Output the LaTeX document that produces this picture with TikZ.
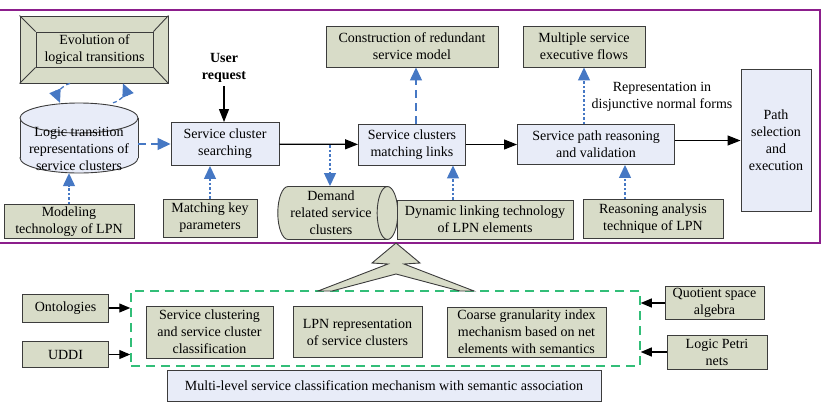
\documentclass[tikz,border=0pt]{standalone}
\usepackage{fontspec}
\setmainfont{Liberation Serif}
\usetikzlibrary{arrows.meta,calc,shapes.geometric}
\definecolor{olivefill}{RGB}{216,220,200}
\definecolor{bluefill}{RGB}{232,236,248}
\definecolor{boxline}{RGB}{60,60,60}
\definecolor{linkblue}{RGB}{70,120,196}
\definecolor{framepurple}{RGB}{140,30,140}
\definecolor{dashgreen}{RGB}{50,190,120}
\tikzset{
  olivebox/.style={draw=boxline, fill=olivefill, line width=0.9pt, align=center, inner sep=2pt},
  bluebox/.style={draw=boxline, fill=bluefill, line width=0.9pt, align=center, inner sep=2pt},
  flowarrow/.style={-{Triangle[length=13pt,width=10pt]}, line width=1.2pt},
  smallflow/.style={-{Triangle[length=11pt,width=9pt]}, line width=1.2pt},
  linkarrow/.style={-{Triangle[length=13pt,width=12pt]}, draw=linkblue, line width=1.3pt},
  longdash/.style={linkarrow, dash pattern=on 8pt off 5pt},
  shortdash/.style={linkarrow, dash pattern=on 2.5pt off 2pt},
}
\begin{document}
\begin{tikzpicture}[x=1pt,y=-1pt,font=\fontsize{14}{17}\selectfont]
\useasboundingbox (0,0) rectangle (822,402);
% upper frame
\draw[framepurple, line width=1.5pt] (-2,10) rectangle (820,243);

% evolution box with bevel
\node[olivebox, minimum width=148pt, minimum height=67pt] (evol) at (94,49.5) {};
\node[olivebox, minimum width=117pt, minimum height=35pt] (evoltext) at (94.5,49.5) {Evolution of\\logical transitions};
\foreach \c in {north west,north east,south west,south east}
  \draw[boxline, line width=0.9pt] (evol.\c) -- (evoltext.\c);

% logic transition cylinder
\node[minimum width=118pt, minimum height=70pt, inner sep=0pt] (logic) at (79,138) {};
\fill[bluefill] (20,118) rectangle (138,158);
\filldraw[fill=bluefill, draw=boxline, line width=0.9pt] (79,158) ellipse [x radius=59, y radius=15];
\fill[bluefill] (20.5,118) rectangle (137.5,158);
\draw[boxline, line width=0.9pt] (20,118) -- (20,158) (138,118) -- (138,158);
\filldraw[fill=bluefill, draw=boxline, line width=0.9pt] (79,118) ellipse [x radius=59, y radius=15];
\node[align=center] (logictext) at (79,149) {Logic transition\\representations of\\service clusters};

% main row
\node[font=\fontsize{14}{17}\selectfont\bfseries, align=center] (user) at (224,68) {User\\request};
\node[bluebox, minimum width=108pt, minimum height=43pt] (search) at (225,144) {Service cluster\\searching};
\node[bluebox, minimum width=107pt, minimum height=41pt] (match) at (412,144.5) {Service clusters\\matching links};
\node[bluebox, minimum width=157pt, minimum height=40pt] (reason) at (596,144.5) {Service path reasoning\\and validation};
\node[bluebox, minimum width=70pt, minimum height=142pt] (pathsel) at (776,140) {Path\\selection\\and\\execution};

% supporting boxes
\node[olivebox, minimum width=130pt, minimum height=33pt] (model) at (69,221.5) {Modeling\\technology of LPN};
\node[olivebox, minimum width=94pt, minimum height=38pt] (keyparam) at (210,218) {Matching key\\parameters};
\node[olivebox, minimum width=172pt, minimum height=41pt] (redund) at (412,46.5) {Construction of redundant\\service model};
\node[cylinder, draw=boxline, line width=0.9pt, cylinder uses custom fill, cylinder body fill=olivefill,
  cylinder end fill=olivefill, aspect=0.45, minimum width=53pt, minimum height=120pt, align=center,
  inner sep=1pt] (demand) at (331,213) {Demand\\related service\\clusters};
\node[olivebox, minimum width=176pt, minimum height=39pt] (dynamic) at (485,219.5) {Dynamic linking technology\\of LPN elements};
\node[olivebox, minimum width=122pt, minimum height=41pt] (multi) at (584,46.5) {Multiple service\\executive flows};
\node[align=center] (dnf) at (662,97) {Representation in\\disjunctive normal forms};
\node[olivebox, minimum width=140pt, minimum height=39pt] (reasontech) at (653,219) {Reasoning analysis\\technique of LPN};

% black flow
\draw[flowarrow] (user.south) -- (user.south |- search.north);
\draw[flowarrow] (search) -- (match);
\draw[flowarrow] (match) -- (reason);
\coordinate (rs) at ([yshift=4pt]reason.east);
\draw[flowarrow] (rs) -- (rs -| pathsel.west);

% blue links
\draw[linkarrow, dash pattern=on 4pt off 3pt] ([xshift=-24pt]evol.south) to[bend right=50] ([xshift=-19pt]logic.north);
\draw[linkarrow, dash pattern=on 4pt off 3pt] ([xshift=34pt]logic.north) to[bend right=50] ([xshift=29pt]evol.south);
\draw[longdash] (logic.east |- search.west) -- (search.west);
\draw[shortdash] (model.north) -- (model.north |- logic.south);
\draw[shortdash] (keyparam.north) -- (keyparam.north |- search.south);
\coordinate (split) at (330,145);
\draw[shortdash] (split) -- (split |- demand.north);
\draw[longdash] ([xshift=4pt]match.north) -- ([xshift=4pt]redund.south);
\coordinate (dl) at ([xshift=-32pt]dynamic.north);
\draw[shortdash] (dl) -- (dl |- match.south);
\draw[shortdash] (reason.north -| multi.south) -- (multi.south);
\coordinate (rt) at ([xshift=-28pt]reasontech.north);
\draw[shortdash] (rt) -- (rt |- reason.south);

% lower part
\node[draw=dashgreen, line width=1.5pt, dash pattern=on 9pt off 6pt, minimum width=509pt, minimum height=75pt] (mech) at (385.5,328.5) {};
\filldraw[fill=olivefill, draw=boxline, line width=0.9pt] (396,243) -- (420,263) -- (404,264) -- (474,291) -- (460,291)
  -- (396,274) -- (332,291) -- (318,291) -- (388,264) -- (372,263) -- cycle;
\node[olivebox, minimum width=127pt, minimum height=52pt] (cluster) at (209.5,332) {Service clustering\\and service cluster\\classification};
\node[olivebox, minimum width=129pt, minimum height=51pt] (lpnrep) at (357.5,332) {LPN representation\\of service clusters};
\node[olivebox, minimum width=159pt, minimum height=50pt] (coarse) at (526.5,332) {Coarse granularity index\\mechanism based on net\\elements with semantics};
\node[olivebox, minimum width=86pt, minimum height=28pt] (onto) at (65.5,308) {Ontologies};
\node[olivebox, minimum width=86pt, minimum height=26pt] (uddi) at (65.5,354.5) {UDDI};
\node[olivebox, minimum width=99pt, minimum height=32pt] (quot) at (714.5,303) {Quotient space\\algebra};
\node[olivebox, minimum width=100pt, minimum height=34pt] (petri) at (717,352) {Logic Petri\\nets};
\node[bluebox, minimum width=434pt, minimum height=31pt] (multilevel) at (384,385.5) {Multi-level service classification mechanism with semantic association};

\draw[smallflow] (onto.east) -- (onto.east -| mech.west);
\draw[smallflow] (uddi.east) -- (uddi.east -| mech.west);
\draw[smallflow] (quot.west) -- (quot.west -| mech.east);
\draw[smallflow] (petri.west) -- (petri.west -| mech.east);
\end{tikzpicture}
\end{document}
